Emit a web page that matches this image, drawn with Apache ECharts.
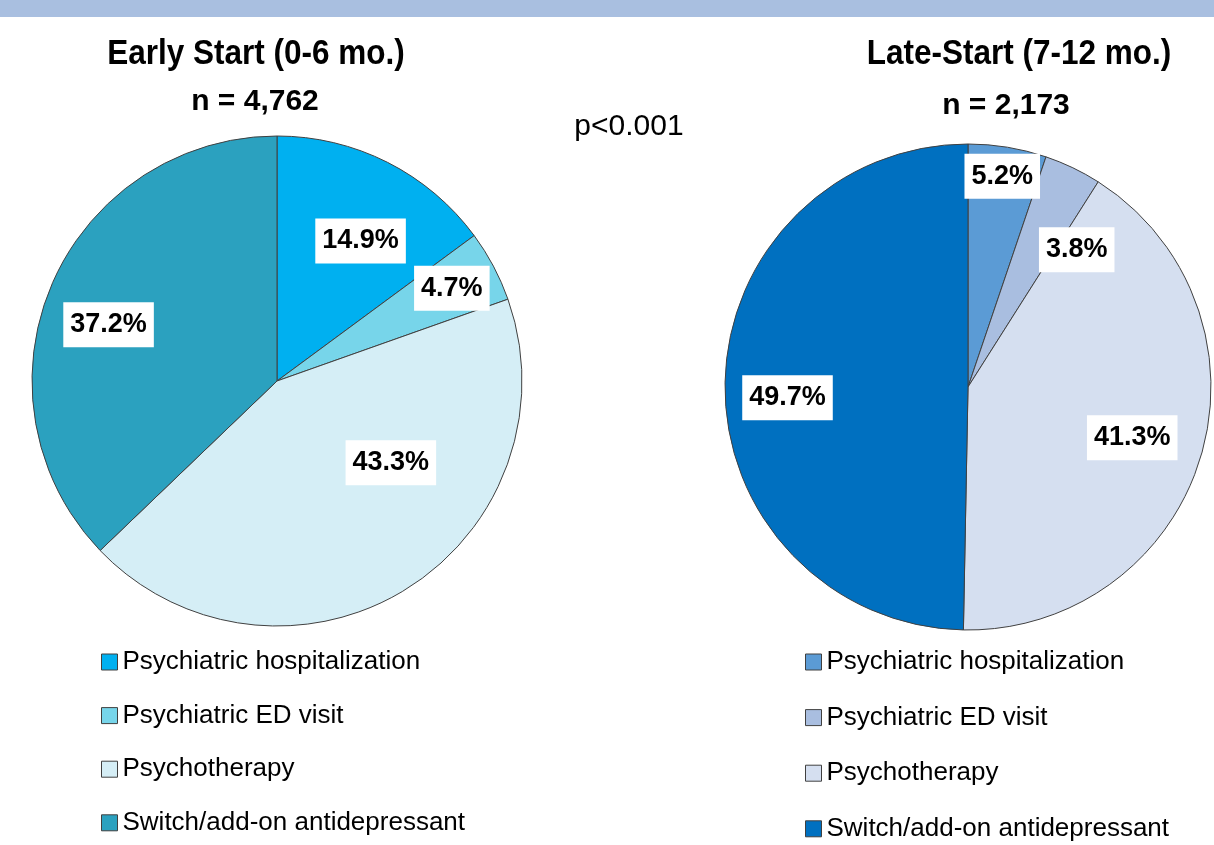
<!DOCTYPE html>
<html>
<head>
<meta charset="utf-8">
<script src="https://cdn.jsdelivr.net/npm/echarts@6/dist/echarts.min.js"></script>
<style>
  html, body { margin: 0; padding: 0; background: #fff; }
  #chart { width: 1214px; height: 845px; }
</style>
</head>
<body>
<div id="chart"></div>
<script>
(function () {
  const categories = [
    'Psychiatric hospitalization',
    'Psychiatric ED visit',
    'Psychotherapy',
    'Switch/add-on antidepressant',
  ];
  const earlyValues = [14.9, 4.7, 43.3, 37.2];
  const lateValues = [5.2, 3.8, 41.3, 49.7];
  const earlyTitle = 'Early Start (0-6 mo.)';
  const earlyCount = 'n = 4,762';
  const lateTitle = 'Late-Start (7-12 mo.)';
  const lateCount = 'n = 2,173';
  const pValue = 'p<0.001';

  const earlyColors = ['#00b0f0', '#77d5ea', '#d5eef6', '#2ba1bf'];
  const lateColors = ['#5b9bd5', '#a9bee0', '#d5dff0', '#0070c0'];
  const sans = "'Liberation Sans', Arial, sans-serif";
  const edge = '#404040';

  // nudges so the boxed labels sit where the slide has them
  const earlyNudge = [[27, -28], [64, -34], [48, -25], [-53, -7]];
  const lateNudge = [[14, -88], [55, -25], [45, 15], [-56, 12]];

  const chart = echarts.init(document.getElementById('chart'));

  function pieSeries(name, values, colors, center, radius, nudge) {
    return {
      name,
      type: 'pie',
      center,
      radius,
      startAngle: 90,
      clockwise: true,
      avoidLabelOverlap: false,
      emphasis: { disabled: true },
      itemStyle: { borderColor: edge, borderWidth: 1 },
      label: {
        show: true,
        position: 'inside',
        formatter: (p) => p.value.toFixed(1) + '%',
        fontFamily: sans,
        fontWeight: 'bold',
        fontSize: 27,
        lineHeight: 30,
        color: '#000',
        backgroundColor: '#fff',
        padding: [8, 7, 7, 7],
      },
      labelLine: { show: false },
      labelLayout: (params) => ({ dx: nudge[params.dataIndex][0], dy: nudge[params.dataIndex][1] }),
      data: categories.map((c, i) => ({ name: c, value: values[i], itemStyle: { color: colors[i] } })),
    };
  }

  function legend(colors, left, gap, textGap) {
    return {
      orient: 'vertical',
      left,
      top: 649,
      padding: 0,
      height: 196,
      icon: 'rect',
      itemWidth: 16,
      itemHeight: 16,
      itemGap: gap,
      itemTextGap: textGap,
      selectedMode: false,
      itemStyle: { borderColor: edge, borderWidth: 1 },
      textStyle: { fontFamily: sans, fontSize: 26, lineHeight: 26, color: '#000' },
      data: categories.map((c, i) => ({ name: c, itemStyle: { color: colors[i] } })),
    };
  }

  function text(str, x, y, font, sx) {
    return {
      type: 'text',
      x,
      y,
      scaleX: sx || 1,
      style: { text: str, font, fill: '#000', textAlign: 'center', textVerticalAlign: 'middle' },
    };
  }

  chart.setOption({
    animation: false,
    graphic: [
      { type: 'rect', shape: { x: 0, y: 0, width: 1214, height: 17 }, style: { fill: '#a9bfe0' } },
      text(earlyTitle, 256, 54, 'bold 35px ' + sans, 0.9),
      text(earlyCount, 255, 102, 'bold 30px ' + sans),
      text(pValue, 629, 127, '30px ' + sans),
      text(lateTitle, 1019, 54, 'bold 35px ' + sans, 0.9),
      text(lateCount, 1006, 106, 'bold 30px ' + sans),
    ],
    legend: [legend(earlyColors, 101, 27.6, 8), legend(lateColors, 805, 29.6, 10)],
    series: [
      pieSeries('Early Start', earlyValues, earlyColors, [277, 381], 245, earlyNudge),
      pieSeries('Late-Start', lateValues, lateColors, [968, 387], 243, lateNudge),
    ],
  });

  window.addEventListener('resize', () => chart.resize());
})();
</script>
</body>
</html>
